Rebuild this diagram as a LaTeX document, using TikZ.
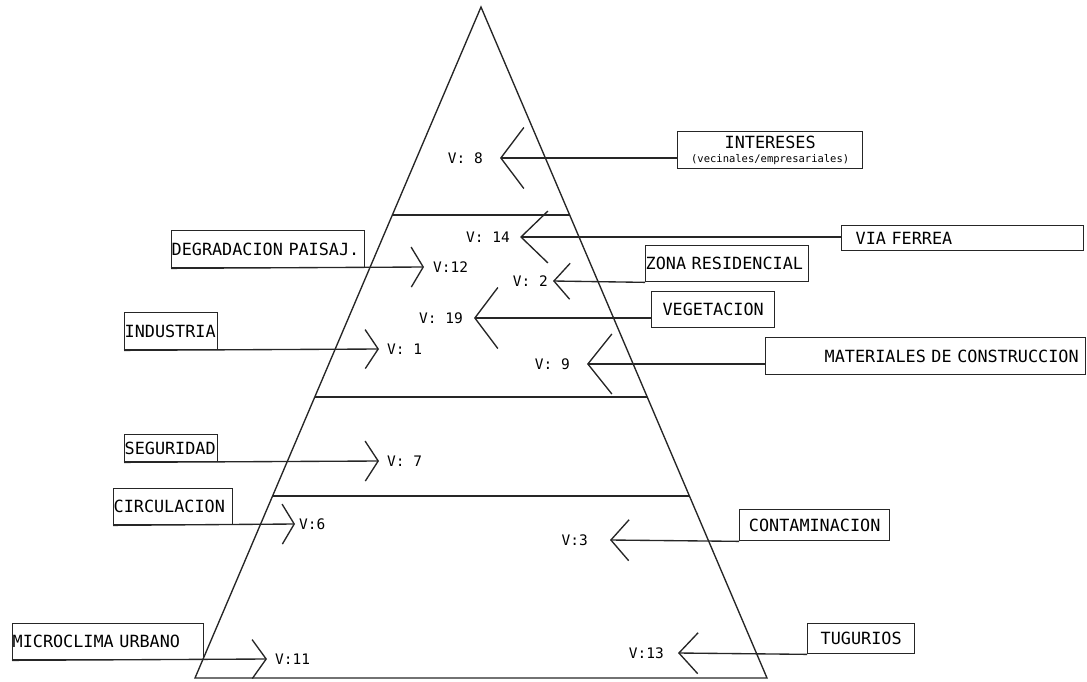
\documentclass[tikz,border=0pt]{standalone}
\usepackage{fontspec}
\setmonofont{DejaVu Sans Mono}
\usetikzlibrary{arrows.meta,calc,positioning}

\newcommand{\letracaja}{\ttfamily\fontsize{16.8}{19}\selectfont\fontdimen2\font=10.1pt\relax}

\begin{document}
\begin{tikzpicture}[x=1pt,y=-1pt]
    \tikzstyle{linea}=[line width=1.35pt, black!85]
    \tikzstyle{caja}=[draw, linea, text=black, anchor=north west, inner ysep=0pt, inner xsep=0pt, font=\letracaja]
    \tikzstyle{etiqueta}=[inner sep=0pt, font=\ttfamily\fontsize{14.5}{16}\selectfont]

    \useasboundingbox (0,0) rectangle (1087,681);

    % piramide con sus tres franjas
    \coordinate (apex) at (481,7);
    \coordinate (bl) at (195,678);
    \coordinate (br) at (767,678);
    \draw[linea, line join=miter] (apex) -- (bl) -- (br) -- cycle;
    \foreach \f in {0.31,0.581,0.729}
        \draw[linea] ($(apex)!\f!(bl)$) -- ($(apex)!\f!(br)$);

    % factores a la derecha
    \node[caja, minimum width=185pt, minimum height=37pt, text width=185pt, align=center] (intereses) at (677,131) {INTERESES\\[-5pt]{\fontsize{10.5}{12}\selectfont(vecinales/empresariales)}};
    \node[caja, minimum width=242pt, minimum height=25pt, inner xsep=14pt, text width=214pt, align=left] (viaferrea) at (841,225) {VIA FERREA};
    \node[caja, minimum width=163pt, minimum height=36pt, text width=163pt, align=left] (zona) at (645,245) {ZONA RESIDENCIAL};
    \node[caja, minimum width=123pt, minimum height=36pt, text width=123pt, align=center] (vegetacion) at (651,291) {VEGETACION};
    \node[caja, minimum width=320pt, minimum height=37pt, inner xsep=7pt, text width=306pt, align=right] (materiales) at (765,337) {MATERIALES DE CONSTRUCCION};
    \node[caja, minimum width=150pt, minimum height=31pt, text width=150pt, align=center] (contaminacion) at (739,509) {CONTAMINACION};
    \node[caja, minimum width=107pt, minimum height=30pt, text width=107pt, align=center] (tugurios) at (807,623) {TUGURIOS};

    % factores a la izquierda
    \node[caja, minimum width=193pt, minimum height=37pt, text width=193pt, align=left] (degradacion) at (171,230) {DEGRADACION PAISAJ.};
    \node[caja, minimum width=93pt, minimum height=37pt, text width=93pt, align=left] (industria) at (124,312) {INDUSTRIA};
    \node[caja, minimum width=93pt, minimum height=27pt, text width=93pt, align=left] (seguridad) at (124,434) {SEGURIDAD};
    \node[caja, minimum width=119pt, minimum height=36pt, text width=119pt, align=left] (circulacion) at (113,488) {CIRCULACION};
    \node[caja, minimum width=191pt, minimum height=36pt, text width=191pt, align=left] (microclima) at (12,623) {MICROCLIMA URBANO};

    % puntas de flecha y valores
    \coordinate (t8) at (500,158);
    \coordinate (t14) at (520,237);
    \coordinate (t2) at (553,281);
    \coordinate (t19) at (474,318);
    \coordinate (t9) at (587,364);
    \coordinate (t3) at (610,540);
    \coordinate (t13) at (678,653);
    \coordinate (t12) at (424,267);
    \coordinate (t1) at (379,349);
    \coordinate (t7) at (379,461);
    \coordinate (t6) at (295,524);
    \coordinate (t11) at (267,659);

    \node[etiqueta, left=17pt of t8] (v8) {V: 8};
    \node[etiqueta, left=10pt of t14] (v14) {V: 14};
    \node[etiqueta, left=5pt of t2] (v2) {V: 2};
    \node[etiqueta, left=11pt of t19] (v19) {V: 19};
    \node[etiqueta, left=17pt of t9] (v9) {V: 9};
    \node[etiqueta, left=22pt of t3] (v3) {V:3};
    \node[etiqueta, left=14pt of t13] (v13) {V:13};
    \node[etiqueta, right=9pt of t12] (v12) {V:12};
    \node[etiqueta, right=8pt of t1] (v1) {V: 1};
    \node[etiqueta, right=8pt of t7] (v7) {V: 7};
    \node[etiqueta, right=4pt of t6] (v6) {V:6};
    \node[etiqueta, right=8pt of t11] (v11) {V:11};

    \draw[linea, -{Straight Barb[length=23pt,width=61pt]}] (intereses.west |- t8) -- (t8);
    \draw[linea, -{Straight Barb[length=27pt,width=52pt]}] (viaferrea.west |- t14) -- (t14);
    \draw[linea, -{Straight Barb[length=16pt,width=36pt]}] (zona.south west) -- (t2);
    \draw[linea, -{Straight Barb[length=23pt,width=61pt]}] (vegetacion.west |- t19) -- (t19);
    \draw[linea, -{Straight Barb[length=24pt,width=60pt]}] (materiales.west |- t9) -- (t9);
    \draw[linea, -{Straight Barb[length=18pt,width=41pt]}] (contaminacion.south west) -- (t3);
    \draw[linea, -{Straight Barb[length=19pt,width=41pt]}] (tugurios.south west) -- (t13);
    \draw[linea, -{Straight Barb[length=12pt,width=40pt]}] (degradacion.south west) -- (t12);
    \draw[linea, -{Straight Barb[length=13pt,width=39pt]}] (industria.south west) -- (t1);
    \draw[linea, -{Straight Barb[length=13pt,width=40pt]}] (seguridad.south west) -- (t7);
    \draw[linea, -{Straight Barb[length=12pt,width=40pt]}] (circulacion.south west) -- (t6);
    \draw[linea, -{Straight Barb[length=14pt,width=39pt]}] (microclima.south west) -- (t11);
\end{tikzpicture}
\end{document}
